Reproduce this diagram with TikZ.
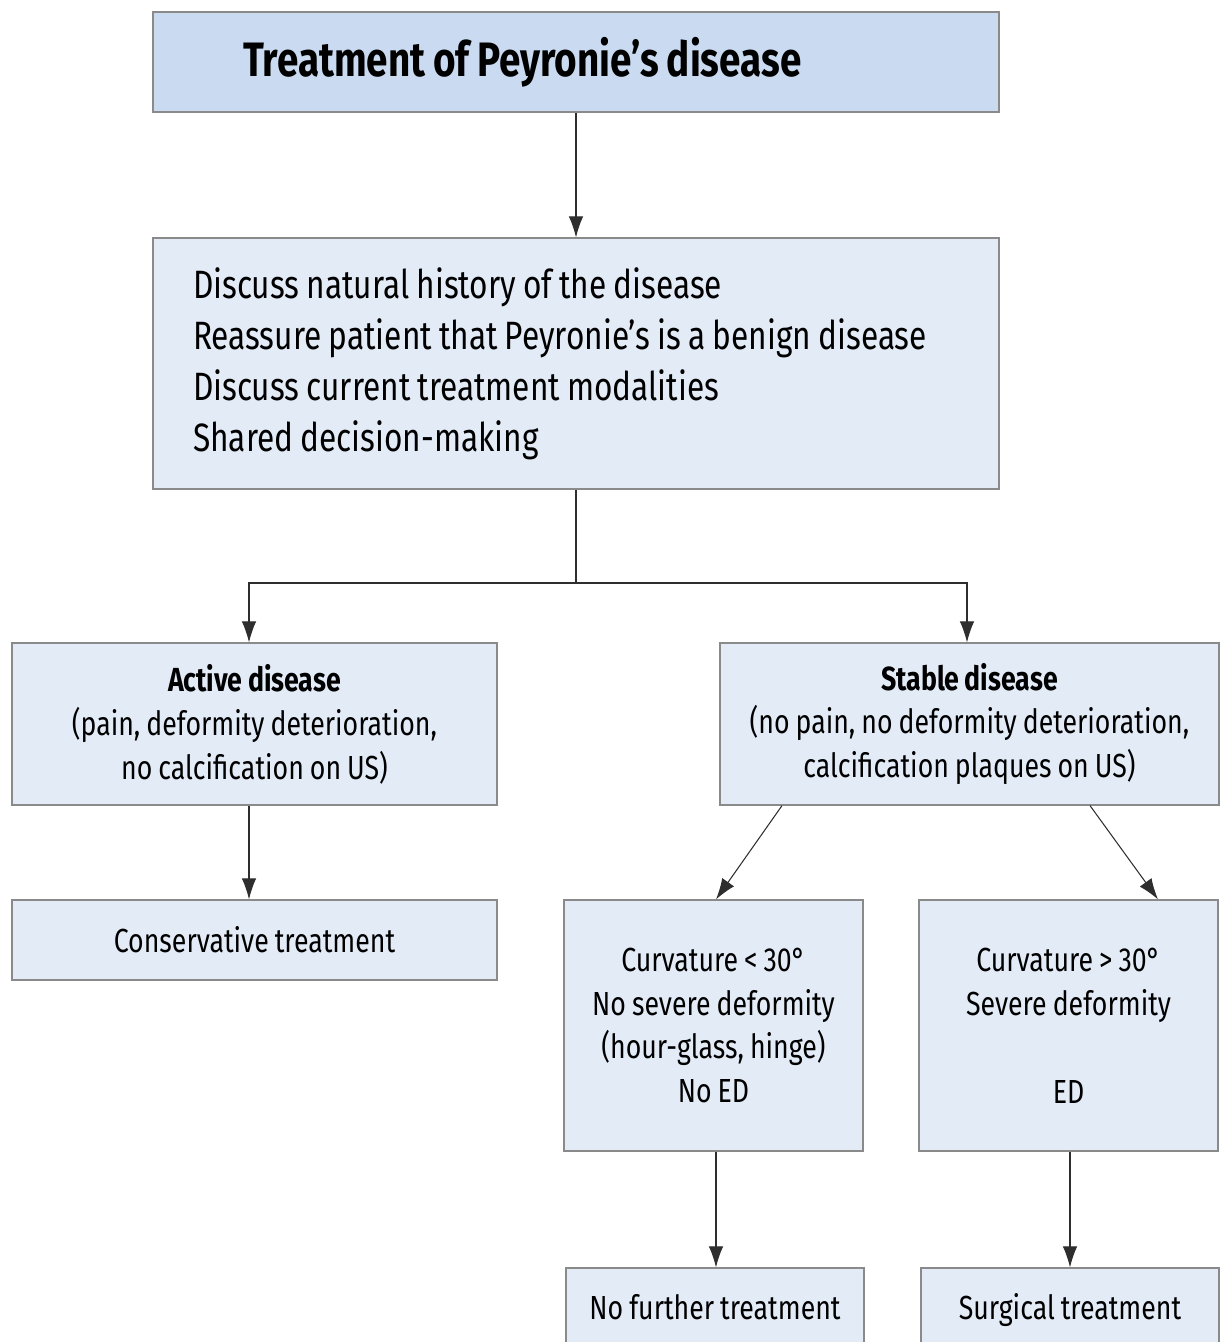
\documentclass[tikz,border=0pt]{standalone}
\usepackage{fontspec}
\setmainfont{Fira Sans}[FakeStretch=0.8, WordSpace=0.85]
\usetikzlibrary{arrows.meta}

\definecolor{titleblue}{HTML}{C9DAF1}
\definecolor{boxblue}{HTML}{E3EBF7}
\definecolor{boxline}{HTML}{8A8A8A}
\definecolor{linkgray}{HTML}{2E2E2E}

\tikzset{
  box/.style={draw=boxline, fill=boxblue, line width=0.7pt, inner sep=0pt},
  small/.style={font=\fontsize{19}{25}\selectfont, align=center},
  link/.style={draw=linkgray, line width=0.6pt},
  >={Latex[length=4.2mm,width=2.9mm]}
}

\begin{document}
\begin{tikzpicture}[x=0.02cm,y=-0.02cm]

\useasboundingbox (0,0) rectangle (1220,1342);

% top
\node[box, fill=titleblue, minimum width=16.92cm, minimum height=2cm,
  text width=15.12cm, align=left, font=\fontsize{27.5}{32}\selectfont\bfseries]
  (title) at (576,62) {\spaceskip=0pt\hspace*{0.9cm}Treatment of Peyronie’s disease};

\node[box, minimum width=16.92cm, minimum height=5.02cm,
  text width=15.32cm, align=left, font=\fontsize{22.5}{29}\selectfont]
  (discuss) at (576,363.5) {\spaceskip=0pt\hyphenpenalty=10000
  Discuss natural history of the disease\\
  Reassure patient that Peyronie’s is a benign disease\\
  Discuss current treatment modalities\\
  Shared decision-making};

\draw[link,->] (title) -- (discuss);

% branches
\node[box, small, minimum width=9.7cm, minimum height=3.24cm]
  (active) at (254.5,724) {\textbf{Active disease}\\
  (pain, deformity deterioration,\\ no calcification on US)};

\node[box, small, minimum width=9.98cm, minimum height=3.24cm]
  (stable) at (969.5,724) {\textbf{Stable disease}\\
  (no pain, no deformity deterioration,\\ calcification plaques on US)};

\coordinate (split) at (576,583);
\draw[link] (discuss.south) -- (split);
\draw[link,->] (split) -| (active.north -| 249,0);
\draw[link,->] (split) -| (stable.north -| 967,0);

% active side
\node[box, small, minimum width=9.7cm, minimum height=1.6cm]
  (conserv) at (254.5,940) {Conservative treatment};
\draw[link,->] (active.south -| 249,0) -- (conserv.north -| 249,0);

% stable side
\node[box, small, minimum width=5.98cm, minimum height=5.02cm]
  (mild) at (713.5,1025.5) {Curvature < 30°\\ No severe deformity\\
  (hour-glass, hinge)\\ No ED};
\node[box, small, minimum width=5.98cm, minimum height=5.02cm]
  (severe) at (1068.5,1025.5) {Curvature > 30°\\ Severe deformity\\ \\ ED};

\draw[link,->] (stable.south -| 782,0) -- (mild.north -| 716,0);
\draw[link,->] (stable.south -| 1090,0) -- (severe.north -| 1158,0);

\node[box, small, minimum width=5.96cm, minimum height=2cm]
  (nofurther) at (715,1318) {\raisebox{0.45cm}{No further treatment}};
\node[box, small, minimum width=5.96cm, minimum height=2cm]
  (surgical) at (1070,1318) {\raisebox{0.45cm}{Surgical treatment}};

\draw[link,->] (mild.south -| 716,0) -- (nofurther.north -| 716,0);
\draw[link,->] (severe.south -| 1070,0) -- (surgical.north -| 1070,0);

\end{tikzpicture}
\end{document}
